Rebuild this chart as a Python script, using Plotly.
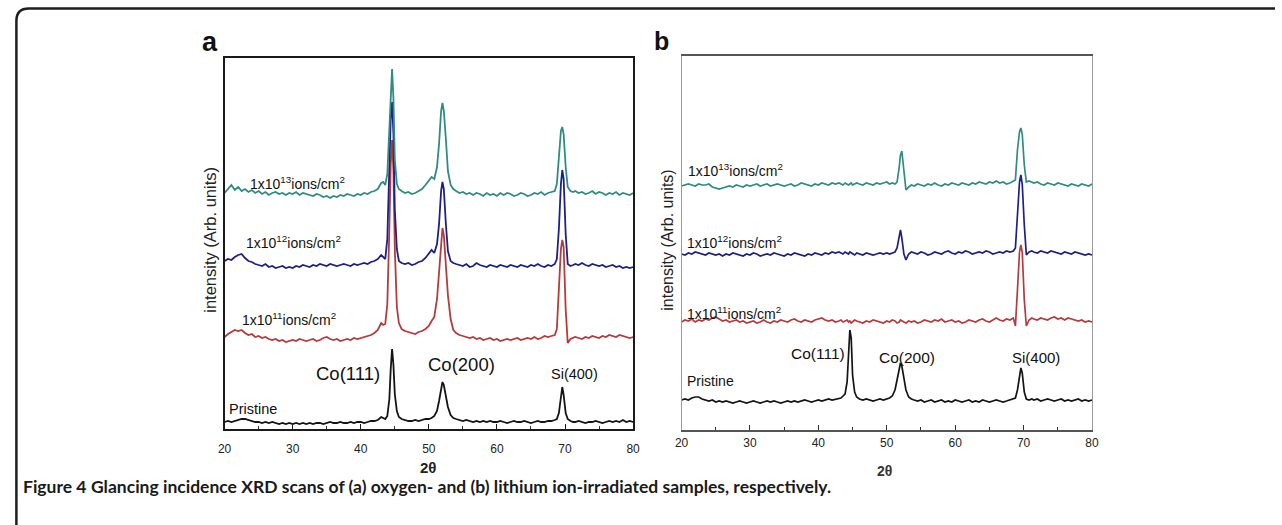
import plotly.graph_objects as go

W, H = 1282, 525

# ---------------- data ----------------
two_theta = [20, 20.5, 21, 21.5, 22, 22.5, 23, 23.5, 24, 24.5, 25, 25.5, 26, 26.5, 27, 27.5, 28, 28.5, 29, 29.5,
             30, 30.5, 31, 31.5, 32, 32.5, 33, 33.5, 34, 34.5, 35, 35.5, 36, 36.5, 37, 37.5, 38, 38.5, 39, 39.5,
             40, 40.5, 41, 41.5, 42, 42.5, 43,
             43.3, 43.6, 43.9, 44.2, 44.4, 44.6, 44.8, 45.0, 45.3, 45.6, 46.0,
             46.5, 47, 47.5, 48, 48.5, 49, 49.5, 50,
             50.4, 50.8, 51.2, 51.5, 51.8, 52.0, 52.2, 52.5, 52.8, 53.2, 53.6,
             54, 54.5, 55, 55.5, 56, 56.5, 57, 57.5, 58, 58.5, 59, 59.5, 60, 60.5, 61, 61.5, 62, 62.5, 63, 63.5,
             64, 64.5, 65, 65.5, 66, 66.5, 67, 67.5, 68, 68.5,
             68.8, 69.1, 69.4, 69.6, 69.8, 70.1, 70.4, 70.8, 71.2,
             71.5, 72, 72.5, 73, 73.5, 74, 74.5, 75, 75.5, 76, 76.5, 77, 77.5, 78, 78.5, 79, 79.5, 80]

# panel (a): oxygen ion irradiated
a_pristine = [7, 8, 7, 8, 9, 10, 10, 9, 8, 7, 7, 6, 7, 6, 7, 6, 5, 6, 5, 6, 5, 6, 5, 6, 5, 6, 5, 6, 6, 5,
              6, 7, 6, 6, 7, 6, 6, 7, 6, 7, 7, 6, 7, 8, 8, 9, 12,
              11, 10, 13, 30, 60, 80, 64, 35, 18, 12, 10,
              9, 8, 8, 9, 8, 9, 10, 10,
              11, 13, 18, 28, 42, 47, 44, 33, 22, 14, 11,
              10, 9, 8, 9, 8, 7, 8, 7, 8, 7, 8, 7, 7, 8, 7, 6, 7, 8, 7, 7, 8, 7, 6, 7, 8, 7, 7, 8, 8, 9,
              10, 16, 32, 42, 34, 16, 10, 8, 7,
              7, 8, 7, 6, 7, 7, 8, 7, 6, 7, 8, 7, 8, 7, 9, 7, 8, 7]
a_1e11 = [92, 95, 97, 99, 98, 99, 96, 94, 95, 92, 93, 91, 92, 90, 89, 90, 88, 89, 87, 88,
          89, 88, 90, 89, 88, 89, 90, 88, 89, 91, 92, 90, 89, 90, 88, 89, 90, 89, 91, 90,
          91, 92, 93, 94, 96, 99, 106,
          104, 105, 125, 200, 265, 289, 258, 180, 122, 106, 100,
          98, 97, 96, 95, 97, 98, 100, 103,
          108, 112, 130, 158, 190, 201, 194, 168, 134, 110, 99,
          96, 94, 93, 92, 91, 92, 90, 91, 89, 90, 91, 89, 90, 88, 89, 90, 89, 90, 91, 89,
          90, 91, 90, 92, 90, 91, 93, 92, 93, 94,
          100, 140, 180, 189, 182, 120, 86, 90, 91,
          92, 91, 90, 92, 91, 93, 92, 91, 93, 92, 94, 93, 92, 94, 93, 92, 91, 92]
a_1e12 = [168, 170, 169, 172, 174, 175, 171, 168, 167, 165, 164, 163, 165, 162, 163, 161, 162, 163, 161, 162,
          161, 163, 162, 164, 163, 162, 164, 163, 165, 164, 163, 165, 164, 163, 164, 165, 164, 163, 165, 164,
          165, 166, 165, 167, 168, 170, 174,
          172, 170, 190, 250, 310, 327, 295, 220, 180, 168, 166,
          165, 166, 164, 165, 167, 168, 171, 175,
          179, 176, 185, 205, 238, 247, 240, 205, 178, 168, 166,
          165, 164, 163, 165, 162, 163, 166, 164, 163, 162, 164, 163, 162, 164, 163, 162, 164, 163, 162, 164,
          163, 162, 164, 163, 165, 163, 162, 164, 163, 165,
          170, 200, 245, 259, 250, 195, 165, 163, 164,
          165, 164, 166, 164, 163, 165, 164, 163, 164, 162, 163, 164, 162, 163, 161, 162, 161, 162]
a_1e13 = [236, 240, 244, 239, 242, 238, 240, 237, 239, 236, 238, 235, 237, 234, 236, 237, 235, 236, 234, 236,
          235, 237, 234, 236, 235, 234, 233, 235, 234, 232, 233, 231, 233, 232, 234, 233, 235, 234, 233, 235,
          234, 236, 235, 237, 238, 240, 246,
          247, 244, 255, 300, 345, 360, 330, 270, 245, 240, 238,
          236, 237, 235, 236, 238, 240, 244, 248,
          252, 250, 262, 285, 318, 326, 318, 290, 258, 244, 240,
          238, 236, 237, 235, 236, 234, 236, 235, 233, 236, 234, 235, 233, 236, 234, 236, 235, 233, 234, 236,
          235, 233, 234, 236, 235, 237, 234, 236, 237, 238,
          245, 275, 298, 302, 295, 262, 242, 238, 237,
          238, 236, 237, 235, 236, 238, 235, 237, 236, 234, 236, 235, 237, 234, 236, 235, 234, 236]

# panel (b): lithium ion irradiated
b_pristine = [30, 31, 30, 32, 33, 33, 31, 30, 29, 30, 28, 29, 28, 29, 28, 27, 28, 29, 28, 27,
              28, 29, 28, 27, 28, 29, 28, 29, 28, 27, 28, 29, 28, 29, 28, 29, 30, 29, 28, 29,
              30, 29, 30, 31, 30, 31, 32,
              32, 34, 36, 48, 80, 100, 92, 55, 38, 33, 31,
              30, 31, 30, 29, 30, 31, 30, 31,
              32, 34, 40, 50, 62, 67, 64, 52, 40, 33, 31,
              30, 29, 30, 28, 29, 30, 28, 29, 30, 28, 29, 28, 30, 29, 28, 29, 30, 28, 29, 28,
              30, 29, 28, 29, 30, 29, 28, 29, 30, 31,
              32, 40, 55, 62, 57, 38, 31, 30, 31,
              30, 31, 29, 30, 31, 30, 29, 30, 31, 29, 30, 29, 30, 31, 29, 30, 29, 30]
b_1e11 = [108, 110, 109, 111, 108, 110, 109, 111, 110, 112, 113, 111, 109, 110, 108, 109, 110, 108, 109, 107,
          108, 109, 107, 108, 110, 108, 107, 109, 108, 110, 109, 108, 110, 111, 109, 108, 110, 109, 108, 110,
          111, 112, 110, 109, 110, 108, 109,
          110, 108, 109, 110, 108, 109, 107, 108, 110, 109, 108,
          107, 109, 108, 110, 109, 108, 107, 109,
          108, 110, 109, 107, 108, 110, 109, 108, 107, 109, 108,
          109, 107, 108, 110, 109, 108, 110, 109, 111, 108, 109, 110, 108, 109, 107, 108, 110, 109, 108, 110,
          111, 109, 108, 110, 112, 110, 109, 111, 110, 112,
          104, 140, 178, 185, 178, 130, 104, 110, 112,
          111, 110, 112, 111, 110, 112, 113, 111, 112, 110, 112, 111, 110, 109, 110, 108, 109, 108]
b_1e12 = [176, 175, 177, 176, 178, 177, 176, 175, 177, 176, 175, 176, 174, 176, 175, 177, 176, 175, 174, 176,
          175, 177, 176, 174, 175, 176, 175, 177, 176, 175, 174, 176, 175, 177, 176, 175, 174, 176, 175, 177,
          176, 175, 177, 176, 178, 177, 178,
          177, 176, 178, 177, 176, 178, 177, 176, 175, 177, 176,
          175, 177, 176, 175, 176, 177, 176, 177,
          176, 177, 178, 182, 195, 200, 192, 176, 170, 176, 178,
          177, 176, 178, 177, 175, 176, 178, 177, 176, 178, 179, 177, 176, 178, 177, 179, 178, 176, 177, 178,
          177, 179, 178, 176, 177, 178, 177, 179, 178, 179,
          182, 215, 248, 255, 246, 205, 175, 178, 179,
          178, 177, 179, 178, 177, 179, 178, 177, 176, 178, 177, 176, 178, 177, 176, 175, 176, 175]
b_1e13 = [244, 245, 246, 245, 244, 246, 245, 245, 246, 243, 242, 241, 242, 243, 244, 243, 245, 244, 243, 245,
          244, 245, 246, 244, 245, 246, 244, 245, 246, 245, 244, 245, 246, 244, 245, 247, 246, 245, 244, 246,
          245, 247, 246, 245, 247, 246, 247,
          246, 245, 247, 246, 245, 246, 247, 245, 246, 247, 246,
          245, 247, 246, 245, 247, 246, 247, 248,
          246, 247, 246, 248, 262, 275, 279, 262, 240, 243, 245,
          244, 246, 245, 244, 246, 245, 247, 245, 244, 246, 245, 247, 246, 245, 247, 246, 245, 247, 246, 248,
          247, 246, 248, 247, 249, 247, 248, 246, 247, 249,
          250, 280, 298, 302, 296, 265, 248, 249, 248,
          247, 248, 246, 245, 247, 246, 245, 247, 246, 245, 244, 246, 245, 244, 246, 245, 244, 246]

series_names = ["Pristine", "1x10<sup>11</sup>ions/cm<sup>2</sup>",
                "1x10<sup>12</sup>ions/cm<sup>2</sup>", "1x10<sup>13</sup>ions/cm<sup>2</sup>"]
peak_labels = ["Co(111)", "Co(200)", "Si(400)"]
x_ticks = [20, 30, 40, 50, 60, 70, 80]

# ---------------- styling ----------------
colors = ["#141414", "#b83a3a", "#1d2088", "#2f8c82"]
FONT = "Liberation Sans, Arial, sans-serif"


def P(x, y):
    return x / W, 1 - y / H


fig = go.Figure()
panel_a = [a_pristine, a_1e11, a_1e12, a_1e13]
panel_b = [b_pristine, b_1e11, b_1e12, b_1e13]
for i, ys in enumerate(panel_a):
    fig.add_trace(go.Scatter(x=two_theta, y=ys, mode="lines", xaxis="x", yaxis="y",
                             line=dict(color=colors[i], width=1.8), showlegend=False,
                             name=series_names[i]))
for i, ys in enumerate(panel_b):
    fig.add_trace(go.Scatter(x=two_theta, y=ys, mode="lines", xaxis="x2", yaxis="y2",
                             line=dict(color=colors[i], width=1.7), showlegend=False,
                             name=series_names[i]))

ax_common = dict(range=[20, 80], tickvals=x_ticks, ticks="inside", ticklen=5, tickwidth=1.2,
                 tickfont=dict(family=FONT, size=12, color="#222"), showgrid=False, zeroline=False,
                 showline=True, mirror=True, linewidth=1.6,
                 minor=dict(ticks="inside", ticklen=3, dtick=5, tick0=20, tickcolor="#333", showgrid=False))
fig.update_layout(
    width=W, height=H, margin=dict(l=0, r=0, t=0, b=0),
    paper_bgcolor="white", plot_bgcolor="white",
    xaxis=dict(domain=[220 / W, 633 / W], anchor="y", linecolor="#1a1a1a", tickcolor="#1a1a1a",
               ticklabelstandoff=8, **ax_common),
    yaxis=dict(domain=[1 - 429 / H, 1 - 58 / H], anchor="x", range=[0, 371], showticklabels=False,
               ticks="", showgrid=False, zeroline=False, showline=True, mirror=True,
               linecolor="#1a1a1a", linewidth=1.6),
    xaxis2=dict(domain=[682 / W, 1097 / W], anchor="y2", linecolor="#555", tickcolor="#333",
                ticklabelstandoff=1, **ax_common),
    yaxis2=dict(domain=[1 - 430 / H, 1 - 56 / H], anchor="x2", range=[0, 374], showticklabels=False,
                ticks="", showgrid=False, zeroline=False, showline=True, mirror=True,
                linecolor="#9a9a9a", linewidth=1.4),
)

ann = []


def add_text(x, y, text, size, xanchor="left", bold=False, angle=0, color="#111", family=FONT):
    px, py = P(x, y)
    t = f"<b>{text}</b>" if bold else text
    ann.append(dict(x=px, y=py, xref="paper", yref="paper", text=t, showarrow=False,
                    xanchor=xanchor, yanchor="middle", textangle=angle,
                    font=dict(family=family, size=size, color=color)))


# panel letters
add_text(205, 42, "a", 27, xanchor="center", bold=True)
add_text(662, 41, "b", 25, xanchor="center", bold=True)

# y titles
add_text(205, 240, "intensity (Arb. units)", 16.5, xanchor="center", angle=-90, color="#222")
add_text(668, 240, "intensity (Arb. units)", 16, xanchor="center", angle=-90, color="#222")

# x titles
add_text(426, 467, "2θ", 15, xanchor="center", bold=True, color="#222")
add_text(887, 471, "2θ", 14, xanchor="center", bold=True, color="#333")

# panel (a) series labels
add_text(244, 183, series_names[3], 14)
add_text(240, 242, series_names[2], 14)
add_text(236, 319, series_names[1], 14)
add_text(222, 409, series_names[0], 14.5)
add_text(345, 373, peak_labels[0], 18.5, xanchor="center")
add_text(460, 364, peak_labels[1], 18.5, xanchor="center")
add_text(574, 374, peak_labels[2], 14.5, xanchor="center")

# panel (b) series labels
add_text(686, 170, series_names[3], 14)
add_text(685, 242, series_names[2], 14)
add_text(685, 313, series_names[1], 14)
add_text(685, 381, series_names[0], 14)
add_text(820, 353, peak_labels[0], 15.5, xanchor="center")
add_text(910, 357, peak_labels[1], 15.5, xanchor="center")
add_text(1040, 357, peak_labels[2], 15, xanchor="center")

# caption
add_text(14, 486, "<b>Figure 4</b> <b>Glancing incidence XRD scans of (a) oxygen- and (b) lithium "
                  "ion-irradiated samples, respectively.</b>", 17.5, family="Lato, Liberation Sans, sans-serif",
         color="#1a1a1a")

fig.update_layout(annotations=ann)

# outer frame with rounded top-left corner
x0, y0 = P(9.5, 525)
x1, y1 = P(9.5, 21)
cx, cy = P(9.5, 8.5)
x2, y2 = P(22, 8.5)
x3, y3 = P(1282, 8.5)
fig.add_shape(type="path", xref="paper", yref="paper",
              path=f"M {x0},{y0} L {x1},{y1} Q {cx},{cy} {x2},{y2} L {x3},{y3}",
              line=dict(color="#1e1e1e", width=2.5))

fig.write_html("out.html", config={"displayModeBar": False})
